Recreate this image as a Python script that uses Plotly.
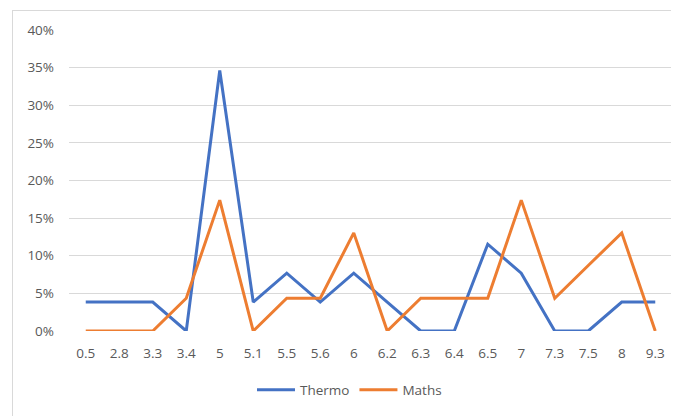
import plotly.graph_objects as go

categories = ["0.5", "2.8", "3.3", "3.4", "5", "5.1", "5.5", "5.6", "6", "6.2",
              "6.3", "6.4", "6.5", "7", "7.3", "7.5", "8", "9.3"]
thermo = [0.0385, 0.0385, 0.0385, 0.0, 0.3462, 0.0385, 0.0769, 0.0385, 0.0769, 0.0385,
          0.0, 0.0, 0.1154, 0.0769, 0.0, 0.0, 0.0385, 0.0385]
maths = [0.0, 0.0, 0.0, 0.0435, 0.1739, 0.0, 0.0435, 0.0435, 0.1304, 0.0,
         0.0435, 0.0435, 0.0435, 0.1739, 0.0435, 0.087, 0.1304, 0.0]
y_ticks = [0, 0.05, 0.10, 0.15, 0.20, 0.25, 0.30, 0.35, 0.40]
y_labels = ["0%", "5%", "10%", "15%", "20%", "25%", "30%", "35%", "40%"]

OFF = 8  # page body margin
W, H = 679 - OFF, 416 - OFF
L, R, T, B = 61, 7, 22, 85
pw, ph = W - L - R, H - T - B

fig = go.Figure()
fig.add_trace(go.Scatter(x=categories, y=thermo, mode="lines", name="Thermo",
                         line=dict(color="#4472C4", width=3)))
fig.add_trace(go.Scatter(x=categories, y=maths, mode="lines", name="Maths",
                         line=dict(color="#ED7D31", width=3)))

font = dict(family="Open Sans, Liberation Sans, sans-serif", size=13.5, color="#595959")

def px_x(p):
    return (p - OFF - L) / pw

def px_y(p):
    return (H - B - (p - OFF)) / ph

fig.update_layout(
    width=W, height=H,
    margin=dict(l=L, r=R, t=T, b=B, autoexpand=False),
    paper_bgcolor="white", plot_bgcolor="white",
    font=font,
    showlegend=True,
    legend=dict(orientation="h", x=px_x(252), xanchor="left", y=px_y(390), yanchor="middle",
                font=font, traceorder="normal", itemwidth=38),
    xaxis=dict(type="category", range=[-0.5, len(categories) - 0.5],
               showgrid=False, showline=False, zeroline=False,
               ticks="", tickfont=font, ticklabelstandoff=12),
    yaxis=dict(range=[0, 0.4], tickvals=y_ticks, ticktext=y_labels,
               showgrid=True, gridcolor="#D9D9D9", gridwidth=1,
               zeroline=False, showline=False, ticks="", tickfont=font,
               ticklabelstandoff=14),
    shapes=[
        dict(type="line", xref="paper", yref="paper",
             x0=px_x(12), x1=px_x(679), y0=px_y(10.5), y1=px_y(10.5),
             line=dict(color="#D9D9D9", width=1)),
        dict(type="line", xref="paper", yref="paper",
             x0=px_x(12.5), x1=px_x(12.5), y0=px_y(10.5), y1=px_y(416),
             line=dict(color="#D9D9D9", width=1)),
    ],
)

fig.write_html("out.html")
